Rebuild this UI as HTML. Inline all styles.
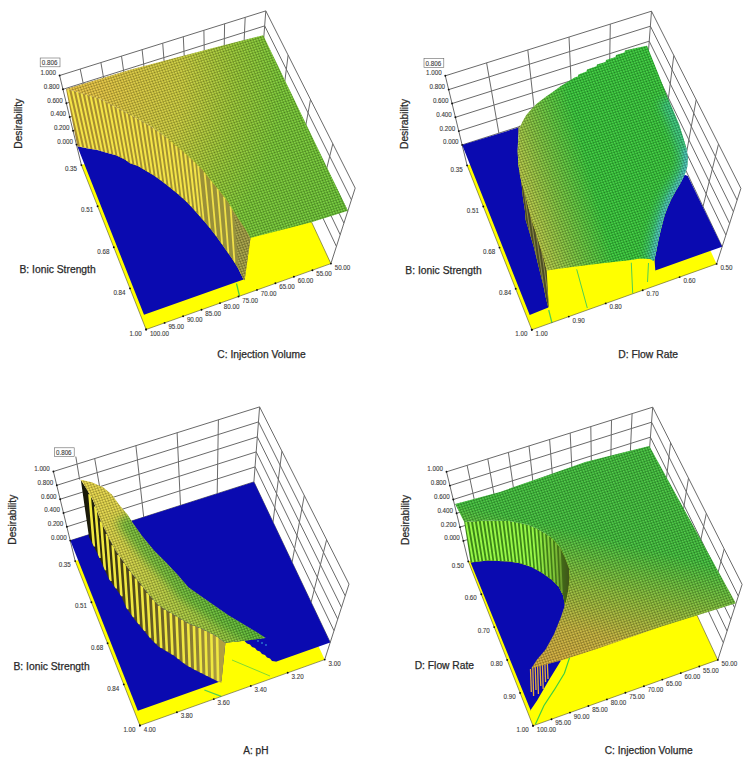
<!DOCTYPE html><html><head><meta charset="utf-8"><title>Desirability surfaces</title>
<style>
html,body{margin:0;padding:0;background:#fff;}
svg{display:block;}
.w{stroke:#6a6a6a;stroke-width:1;fill:none;}
.e{stroke:#50502a;stroke-width:0.6;fill:none;}
.d{fill:#111;}
.t{font-family:"Liberation Sans",sans-serif;font-size:7px;fill:#3c3c3c;stroke:#3c3c3c;stroke-width:0.12px;}
.a{font-family:"Liberation Sans",sans-serif;font-size:10px;fill:#2a2a2a;stroke:#2a2a2a;stroke-width:0.25px;}
.bx{fill:#fff;stroke:#666;stroke-width:0.6;}
</style></head><body><svg width="750" height="763" viewBox="0 0 750 763"><defs>
<radialGradient id="g1" gradientUnits="userSpaceOnUse" cx="62" cy="88" r="300">
 <stop offset="0" stop-color="#e8c040"/><stop offset="0.12" stop-color="#e4c440"/><stop offset="0.4" stop-color="#cacc3c"/><stop offset="0.58" stop-color="#98c834"/><stop offset="0.73" stop-color="#78c834"/><stop offset="1" stop-color="#6cc636"/></radialGradient>
<linearGradient id="g2" gradientUnits="userSpaceOnUse" x1="522" y1="210" x2="595" y2="190">
 <stop offset="0" stop-color="#c4c846"/><stop offset="0.45" stop-color="#80c43e"/><stop offset="1" stop-color="#36c83a"/></linearGradient>
<radialGradient id="g3" gradientUnits="userSpaceOnUse" cx="82" cy="482" r="230">
 <stop offset="0" stop-color="#ecd84a"/><stop offset="0.35" stop-color="#d8d446"/><stop offset="0.7" stop-color="#b0cc40"/><stop offset="1" stop-color="#88c43a"/></radialGradient>
<linearGradient id="g3b" gradientUnits="userSpaceOnUse" x1="128" y1="590" x2="160" y2="548">
 <stop offset="0" stop-color="#48b030" stop-opacity="0"/><stop offset="1" stop-color="#40b030" stop-opacity="0.7"/></linearGradient>
<linearGradient id="cg3" gradientUnits="userSpaceOnUse" x1="85" y1="0" x2="220" y2="0">
 <stop offset="0" stop-color="#181808"/><stop offset="0.3" stop-color="#4c4418"/><stop offset="0.8" stop-color="#8a7c34"/><stop offset="1" stop-color="#b0a040"/></linearGradient>
<linearGradient id="g4" gradientUnits="userSpaceOnUse" x1="560" y1="668" x2="592" y2="535">
 <stop offset="0" stop-color="#d4aa3c"/><stop offset="0.3" stop-color="#c4b23c"/><stop offset="0.62" stop-color="#8cbc38"/><stop offset="1" stop-color="#40c03c"/></linearGradient>
<linearGradient id="cy2" gradientUnits="userSpaceOnUse" x1="645" y1="205" x2="683" y2="196">
 <stop offset="0" stop-color="#38c0a0" stop-opacity="0"/><stop offset="0.5" stop-color="#38c4a8" stop-opacity="0.5"/><stop offset="1" stop-color="#48b8d0" stop-opacity="0.9"/></linearGradient>
<linearGradient id="cd4" gradientUnits="userSpaceOnUse" x1="535" y1="0" x2="568" y2="0">
 <stop offset="0" stop-color="#506018" stop-opacity="0"/><stop offset="0.6" stop-color="#506018" stop-opacity="0.35"/><stop offset="1" stop-color="#404818" stop-opacity="0.75"/></linearGradient>
<filter id="bl4" x="-50%" y="-50%" width="200%" height="200%"><feGaussianBlur stdDeviation="4"/></filter>
<filter id="bl2" x="-50%" y="-50%" width="200%" height="200%"><feGaussianBlur stdDeviation="2"/></filter>
<linearGradient id="cg1" gradientUnits="userSpaceOnUse" x1="70" y1="0" x2="245" y2="0">
 <stop offset="0" stop-color="#a88c30"/><stop offset="0.6" stop-color="#a09032"/><stop offset="1" stop-color="#949040"/></linearGradient>
<pattern id="mesh" width="1" height="1" patternUnits="userSpaceOnUse" patternTransform="matrix(2.55 -0.78 0.93 2.37 0 0)"><path d="M0 0.13H1M0.13 0V1" stroke="#000" stroke-opacity="0.3" stroke-width="0.26"/><circle cx="0.58" cy="0.58" r="0.2" fill="#ffffd0" fill-opacity="0.35"/></pattern>
<pattern id="bar1" width="4.4" height="20" patternUnits="userSpaceOnUse" patternTransform="rotate(-7)"><rect x="0" y="0" width="2.0" height="20" fill="#f4e448"/></pattern><pattern id="bar2" width="3.0" height="20" patternUnits="userSpaceOnUse" patternTransform="rotate(-8)"><rect x="0" y="0" width="1.0" height="20" fill="#8a8a48"/></pattern><pattern id="bar3" width="5.6" height="20" patternUnits="userSpaceOnUse" patternTransform="rotate(-6)"><rect x="0" y="0" width="2.8" height="20" fill="#f0e840"/></pattern><pattern id="bar4" width="4.0" height="20" patternUnits="userSpaceOnUse" patternTransform="rotate(-5)"><rect x="0" y="0" width="1.8" height="20" fill="#8ef040"/></pattern></defs><rect width="750" height="763" fill="#fff"/><g><line x1="76.5" y1="144.6" x2="260.1" y2="85.9" class="w"/><line x1="260.1" y1="85.9" x2="336.4" y2="246.4" class="w"/><line x1="73.1" y1="130.8" x2="261.3" y2="70.9" class="w"/><line x1="261.3" y1="70.9" x2="340.2" y2="234.7" class="w"/><line x1="69.7" y1="117" x2="262.4" y2="55.9" class="w"/><line x1="262.4" y1="55.9" x2="343.9" y2="223.1" class="w"/><line x1="66.4" y1="103.2" x2="263.5" y2="40.9" class="w"/><line x1="263.5" y1="40.9" x2="347.7" y2="211.4" class="w"/><line x1="63" y1="89.3" x2="264.7" y2="25.9" class="w"/><line x1="264.7" y1="25.9" x2="351.4" y2="199.8" class="w"/><line x1="59.6" y1="75.5" x2="265.8" y2="10.9" class="w"/><line x1="265.8" y1="10.9" x2="355.2" y2="188.1" class="w"/><line x1="94.8" y1="138.8" x2="80.2" y2="69" class="w"/><line x1="113.2" y1="132.9" x2="100.9" y2="62.6" class="w"/><line x1="131.6" y1="127" x2="121.5" y2="56.1" class="w"/><line x1="149.9" y1="121.2" x2="142.1" y2="49.6" class="w"/><line x1="168.3" y1="115.3" x2="162.7" y2="43.2" class="w"/><line x1="186.7" y1="109.4" x2="183.3" y2="36.7" class="w"/><line x1="205" y1="103.5" x2="203.9" y2="30.3" class="w"/><line x1="223.4" y1="97.7" x2="224.6" y2="23.8" class="w"/><line x1="241.8" y1="91.8" x2="245.2" y2="17.3" class="w"/><line x1="279.2" y1="126" x2="288.1" y2="55.2" class="w"/><line x1="298.3" y1="166.2" x2="310.5" y2="99.5" class="w"/><line x1="317.3" y1="206.3" x2="332.8" y2="143.8" class="w"/><line x1="59.6" y1="75.5" x2="81.4" y2="165.1" class="w"/><line x1="265.8" y1="10.9" x2="260.1" y2="85.9" class="w"/><line x1="355.2" y1="188.1" x2="330.9" y2="263.6" class="w"/><polygon points="81.4,165.1 258.5,108.1 330.9,263.6 146.1,329.5" fill="#ffff00" /><line x1="330.9" y1="263.6" x2="294.7" y2="185.8" class="e"/><polygon points="77.3,146.3 86.7,148.2 97.3,150 106.7,152.7 116,155.3 125,159.5 130,163.2 138,166 146,170.8 154,175.6 162,181.2 170,187.6 178,194 186,201.2 193,208.5 198.7,215 205.1,222.3 209.7,227.8 216.1,236.1 223.4,246.2 231.7,258.1 238.1,268.2 243.6,279.4 144,314.8" fill="#0a0ab0" /><polygon points="66,89.1 73.3,90.7 86.7,94.7 100,98.7 121.3,110 140,120 155,129 164.3,135.7 173.7,143.7 181.7,150.3 192.3,159.7 203,170.3 213.7,183.7 220.3,191.7 228.3,202.3 233.9,211.8 241,222.4 245.7,229.5 250.5,238 244.6,280.2 243.6,279.4 238.1,268.2 231.7,258.1 223.4,246.2 216.1,236.1 209.7,227.8 205.1,222.3 198.7,215 193,208.5 186,201.2 178,194 170,187.6 162,181.2 154,175.6 146,170.8 138,166 130,163.2 125,159.5 116,155.3 106.7,152.7 97.3,150 86.7,148.2 77.3,146.3" fill="url(#cg1)" /><path d="M68 89.5L81.2 147.1 M72.5 90.5L85.4 147.9 M77 91.8L89.5 148.7 M81.5 93.1L93.6 149.4 M86 94.5L97.7 150.1 M90.5 95.8L102 151.3 M95 97.2L106.2 152.6 M99.5 98.5L110.4 153.7 M104 100.8L114.4 154.9 M108.5 103.2L118.6 156.5 M113 105.6L122.8 158.5 M117.5 108L127.1 161 M122 110.4L131.4 163.7 M126.5 112.8L135.5 165.1 M131 115.2L139.6 167 M135.5 117.6L143.9 169.6 M140 120L148.2 172.1 M144.5 122.7L152.5 174.7 M149 125.4L156.8 177.6 M153.5 128.1L161.1 180.6 M158 131.2L165.4 183.9 M162.5 134.4L169.7 187.4 M167 138L174 190.8 M171.5 141.8L178.2 194.2 M176 145.6L182.5 198 M180.5 149.3L186.8 202 M185 153.2L191.1 206.5 M189.5 157.2L195.5 211.3 M194 161.4L199.8 216.3" stroke="#f4e448" stroke-width="2.0" fill="none" clip-path="url(#cc1)"/><clipPath id="cc1"><polygon points="66,89.1 73.3,90.7 86.7,94.7 100,98.7 121.3,110 140,120 155,129 164.3,135.7 173.7,143.7 181.7,150.3 192.3,159.7 203,170.3 213.7,183.7 220.3,191.7 228.3,202.3 233.9,211.8 241,222.4 245.7,229.5 250.5,238 244.6,280.2 243.6,279.4 238.1,268.2 231.7,258.1 223.4,246.2 216.1,236.1 209.7,227.8 205.1,222.3 198.7,215 193,208.5 186,201.2 178,194 170,187.6 162,181.2 154,175.6 146,170.8 138,166 130,163.2 125,159.5 116,155.3 106.7,152.7 97.3,150 86.7,148.2 77.3,146.3"/></clipPath><path d="M198 165.3L203.7 220.7 M204.5 172.2L209.9 228 M211 180.3L216 236 M217.5 188.3L222.2 244.6 M224 196.6L228.4 253.4 M230.5 206L234.5 262.6 M237 216.4L240.7 273.5" stroke="#f0e048" stroke-width="1.8" fill="none" clip-path="url(#cc1)"/><polygon points="233.9,211.8 241,222.4 245.7,229.5 250.5,238 244.6,280.2 243.6,279.4 240.5,273 238.5,268" fill="#a4a044" /><polygon points="233.9,211.8 241,222.4 245.7,229.5 250.5,238 244.6,280.2 243.6,279.4 240.5,273 238.5,268" fill="url(#mesh)" /><polygon points="66,89.1 130,69.8 210,48.8 263.2,35.2 347.9,210.8 311.5,222.2 250.5,238 245.7,229.5 241,222.4 233.9,211.8 228.3,202.3 220.3,191.7 213.7,183.7 203,170.3 192.3,159.7 181.7,150.3 173.7,143.7 164.3,135.7 155,129 140,120 121.3,110 100,98.7 86.7,94.7 73.3,90.7" fill="url(#g1)" /><polygon points="66,89.1 130,69.8 210,48.8 263.2,35.2 347.9,210.8 311.5,222.2 250.5,238 245.7,229.5 241,222.4 233.9,211.8 228.3,202.3 220.3,191.7 213.7,183.7 203,170.3 192.3,159.7 181.7,150.3 173.7,143.7 164.3,135.7 155,129 140,120 121.3,110 100,98.7 86.7,94.7 73.3,90.7" fill="url(#mesh)" /><line x1="236.5" y1="283.5" x2="239.5" y2="296" stroke="#40d040" stroke-width="1.2"/><line x1="81.4" y1="165.1" x2="146.1" y2="329.5" class="e"/><line x1="146.1" y1="329.5" x2="330.9" y2="263.6" class="e"/><circle cx="81.4" cy="165.1" r="0.95" class="d"/><circle cx="97.6" cy="206.2" r="0.95" class="d"/><circle cx="113.8" cy="247.3" r="0.95" class="d"/><circle cx="130" cy="288.4" r="0.95" class="d"/><circle cx="146.1" cy="329.5" r="0.95" class="d"/><circle cx="146.1" cy="329.5" r="0.95" class="d"/><circle cx="164.6" cy="322.9" r="0.95" class="d"/><circle cx="183.1" cy="316.3" r="0.95" class="d"/><circle cx="201.5" cy="309.7" r="0.95" class="d"/><circle cx="220" cy="303.1" r="0.95" class="d"/><circle cx="238.5" cy="296.5" r="0.95" class="d"/><circle cx="257" cy="289.9" r="0.95" class="d"/><circle cx="275.4" cy="283.3" r="0.95" class="d"/><circle cx="293.9" cy="276.8" r="0.95" class="d"/><circle cx="312.4" cy="270.2" r="0.95" class="d"/><circle cx="330.9" cy="263.6" r="0.95" class="d"/><circle cx="76.5" cy="144.6" r="0.95" class="d"/><circle cx="73.1" cy="130.8" r="0.95" class="d"/><circle cx="69.7" cy="117" r="0.95" class="d"/><circle cx="66.4" cy="103.2" r="0.95" class="d"/><circle cx="63" cy="89.3" r="0.95" class="d"/><circle cx="59.6" cy="75.5" r="0.95" class="d"/><text x="57.3" y="144" class="t" textLength="15.6" lengthAdjust="spacingAndGlyphs">0.000</text><text x="53.9" y="130.2" class="t" textLength="15.6" lengthAdjust="spacingAndGlyphs">0.200</text><text x="50.5" y="116.4" class="t" textLength="15.6" lengthAdjust="spacingAndGlyphs">0.400</text><text x="47.2" y="102.6" class="t" textLength="15.6" lengthAdjust="spacingAndGlyphs">0.600</text><text x="43.8" y="88.7" class="t" textLength="15.6" lengthAdjust="spacingAndGlyphs">0.800</text><text x="40.4" y="74.9" class="t" textLength="15.6" lengthAdjust="spacingAndGlyphs">1.000</text><text x="64.9" y="171.3" class="t" textLength="12.1" lengthAdjust="spacingAndGlyphs">0.35</text><text x="81.1" y="212.4" class="t" textLength="12.1" lengthAdjust="spacingAndGlyphs">0.51</text><text x="97.3" y="253.5" class="t" textLength="12.1" lengthAdjust="spacingAndGlyphs">0.68</text><text x="113.4" y="294.6" class="t" textLength="12.1" lengthAdjust="spacingAndGlyphs">0.84</text><text x="129.6" y="335.7" class="t" textLength="12.1" lengthAdjust="spacingAndGlyphs">1.00</text><text x="149.9" y="335.5" class="t" textLength="19.1" lengthAdjust="spacingAndGlyphs">100.00</text><text x="168.4" y="328.9" class="t" textLength="15.6" lengthAdjust="spacingAndGlyphs">95.00</text><text x="186.9" y="322.3" class="t" textLength="15.6" lengthAdjust="spacingAndGlyphs">90.00</text><text x="205.3" y="315.7" class="t" textLength="15.6" lengthAdjust="spacingAndGlyphs">85.00</text><text x="223.8" y="309.1" class="t" textLength="15.6" lengthAdjust="spacingAndGlyphs">80.00</text><text x="242.3" y="302.5" class="t" textLength="15.6" lengthAdjust="spacingAndGlyphs">75.00</text><text x="260.8" y="295.9" class="t" textLength="15.6" lengthAdjust="spacingAndGlyphs">70.00</text><text x="279.2" y="289.3" class="t" textLength="15.6" lengthAdjust="spacingAndGlyphs">65.00</text><text x="297.7" y="282.8" class="t" textLength="15.6" lengthAdjust="spacingAndGlyphs">60.00</text><text x="316.2" y="276.2" class="t" textLength="15.6" lengthAdjust="spacingAndGlyphs">55.00</text><text x="334.7" y="269.6" class="t" textLength="15.6" lengthAdjust="spacingAndGlyphs">50.00</text><text x="19.5" y="273.4" class="a" textLength="76.2" lengthAdjust="spacingAndGlyphs">B: Ionic Strength</text><text x="217.3" y="357.9" class="a" textLength="88.4" lengthAdjust="spacingAndGlyphs">C: Injection Volume</text><text class="a" transform="translate(22.2,123.7) rotate(-90)" text-anchor="middle" textLength="50" lengthAdjust="spacingAndGlyphs">Desirability</text><rect x="40.2" y="58" width="19.8" height="8.8" class="bx"/><text x="41.8" y="65" class="t" textLength="15.6" lengthAdjust="spacingAndGlyphs">0.806</text></g><g><line x1="462.2" y1="144.9" x2="645.8" y2="86.2" class="w"/><line x1="645.8" y1="86.2" x2="722.1" y2="246.7" class="w"/><line x1="458.8" y1="131.1" x2="647" y2="71.2" class="w"/><line x1="647" y1="71.2" x2="725.9" y2="235" class="w"/><line x1="455.4" y1="117.3" x2="648.1" y2="56.2" class="w"/><line x1="648.1" y1="56.2" x2="729.6" y2="223.4" class="w"/><line x1="452.1" y1="103.5" x2="649.2" y2="41.2" class="w"/><line x1="649.2" y1="41.2" x2="733.4" y2="211.7" class="w"/><line x1="448.7" y1="89.6" x2="650.4" y2="26.2" class="w"/><line x1="650.4" y1="26.2" x2="737.1" y2="200.1" class="w"/><line x1="445.3" y1="75.8" x2="651.5" y2="11.2" class="w"/><line x1="651.5" y1="11.2" x2="740.9" y2="188.4" class="w"/><line x1="498.9" y1="133.2" x2="486.6" y2="62.9" class="w"/><line x1="535.6" y1="121.5" x2="527.8" y2="49.9" class="w"/><line x1="572.4" y1="109.7" x2="569" y2="37" class="w"/><line x1="609.1" y1="98" x2="610.3" y2="24.1" class="w"/><line x1="664.9" y1="126.3" x2="673.8" y2="55.5" class="w"/><line x1="684" y1="166.5" x2="696.2" y2="99.8" class="w"/><line x1="703" y1="206.6" x2="718.5" y2="144.1" class="w"/><line x1="445.3" y1="75.8" x2="467.1" y2="165.4" class="w"/><line x1="651.5" y1="11.2" x2="645.8" y2="86.2" class="w"/><line x1="740.9" y1="188.4" x2="716.6" y2="263.9" class="w"/><polygon points="467.1,165.4 644.2,108.4 716.6,263.9 531.8,329.8" fill="#ffff00" /><polygon points="462.2,144.9 518.5,127.6 517.7,151.2 518.3,164.3 519.7,170.9 521.6,184 522.9,197.1 524.9,210.2 525.7,220 529.7,233.1 533.6,246.2 536.9,259.3 540.1,272.4 543.4,285.5 546,298.6 548.3,307.5 529.7,315.1" fill="#0a0ab0" /><polygon points="687.8,176.1 722.1,246.7 655.3,270.4 654.5,259.3 655.8,253.4 658.3,240.6 661.3,227.8 664.7,215 667.5,207.6 671.5,198.4 676,190.5 680.6,182.7 684.6,174.8" fill="#0a0ab0" /><polygon points="519.7,125 518.3,138.1 517.7,151.2 518.3,164.3 520.3,177.4 524.2,190.5 527.5,203.6 531.6,220 536.2,233.1 540.1,246.2 544.1,259.3 546.7,270.5 548.7,306.5 548.3,307.5 548.3,307.5 546,298.6 543.4,285.5 540.1,272.4 536.9,259.3 533.6,246.2 529.7,233.1 525.7,220 524.9,210.2 522.9,197.1 521.6,184 519.7,170.9 518.3,164.3 517.7,151.2 518.5,127.6" fill="#4c4c24" /><polygon points="519.7,125 518.3,138.1 517.7,151.2 518.3,164.3 520.3,177.4 524.2,190.5 527.5,203.6 531.6,220 536.2,233.1 540.1,246.2 544.1,259.3 546.7,270.5 548.7,306.5 548.3,307.5 548.3,307.5 546,298.6 543.4,285.5 540.1,272.4 536.9,259.3 533.6,246.2 529.7,233.1 525.7,220 524.9,210.2 522.9,197.1 521.6,184 519.7,170.9 518.3,164.3 517.7,151.2 518.5,127.6" fill="url(#bar2)" /><polygon points="518.9,131.1 519.9,126.9 523.1,120.5 526.3,115.1 531.7,108.7 537,103.4 545.5,97 553,91.7 560.5,86.3 569,81 575,77.3 578,76.5 578.5,74.5 586.5,71.5 587,69.5 596.5,66.3 597,64.5 605.5,62 606,60 615.5,57 616,55 624.5,52.5 625,50.5 636,48 647,45.7 657.5,71.9 668,98.2 679.3,125 683.3,138.1 686.5,148.6 687.8,157.8 687.2,166.9 684.6,174.8 680.6,182.7 676,190.5 671.5,198.4 667.5,207.6 664.7,215 661.3,227.8 658.3,240.6 655.8,253.4 654.5,259.3 653.6,261 650.2,258.9 640,258.5 631,260 600,263.5 570,267.2 546.7,270.5 544.1,259.3 540.1,246.2 536.2,233.1 531.6,220 527.5,203.6 524.2,190.5 520.3,177.4 518.3,164.3 517.7,151.2 518.3,138.1 519.7,125" fill="url(#g2)" /><clipPath id="clip2"><polygon points="518.9,131.1 519.9,126.9 523.1,120.5 526.3,115.1 531.7,108.7 537,103.4 545.5,97 553,91.7 560.5,86.3 569,81 575,77.3 578,76.5 578.5,74.5 586.5,71.5 587,69.5 596.5,66.3 597,64.5 605.5,62 606,60 615.5,57 616,55 624.5,52.5 625,50.5 636,48 647,45.7 657.5,71.9 668,98.2 679.3,125 683.3,138.1 686.5,148.6 687.8,157.8 687.2,166.9 684.6,174.8 680.6,182.7 676,190.5 671.5,198.4 667.5,207.6 664.7,215 661.3,227.8 658.3,240.6 655.8,253.4 654.5,259.3 653.6,261 650.2,258.9 640,258.5 631,260 600,263.5 570,267.2 546.7,270.5 544.1,259.3 540.1,246.2 536.2,233.1 531.6,220 527.5,203.6 524.2,190.5 520.3,177.4 518.3,164.3 517.7,151.2 518.3,138.1 519.7,125"/></clipPath><g clip-path="url(#clip2)"><polyline points="668,98.2 679.3,125 683.3,138.1 686.5,148.6 687.8,157.8 687.2,166.9 684.6,174.8 680.6,182.7 676,190.5 671.5,198.4 667.5,207.6 664.7,215 661.3,227.8 658.3,240.6 655.8,253.4 654.5,259.3 653.6,262" fill="none" stroke="#3cc4b4" stroke-width="20" stroke-opacity="0.55" filter="url(#bl4)"/><polyline points="686.5,148.6 687.8,157.8 687.2,166.9 684.6,174.8 680.6,182.7 676,190.5 671.5,198.4 667.5,207.6 664.7,215 661.3,227.8 658.3,240.6 655.8,253.4 654.5,259.3 653.6,262" fill="none" stroke="#50c0d8" stroke-width="8" stroke-opacity="0.7" filter="url(#bl2)"/></g><polygon points="518.9,131.1 519.9,126.9 523.1,120.5 526.3,115.1 531.7,108.7 537,103.4 545.5,97 553,91.7 560.5,86.3 569,81 575,77.3 578,76.5 578.5,74.5 586.5,71.5 587,69.5 596.5,66.3 597,64.5 605.5,62 606,60 615.5,57 616,55 624.5,52.5 625,50.5 636,48 647,45.7 657.5,71.9 668,98.2 679.3,125 683.3,138.1 686.5,148.6 687.8,157.8 687.2,166.9 684.6,174.8 680.6,182.7 676,190.5 671.5,198.4 667.5,207.6 664.7,215 661.3,227.8 658.3,240.6 655.8,253.4 654.5,259.3 653.6,261 650.2,258.9 640,258.5 631,260 600,263.5 570,267.2 546.7,270.5 544.1,259.3 540.1,246.2 536.2,233.1 531.6,220 527.5,203.6 524.2,190.5 520.3,177.4 518.3,164.3 517.7,151.2 518.3,138.1 519.7,125" fill="url(#mesh)" /><polyline points="576.7,269.3 587.3,308" stroke="#50d050" stroke-width="1" fill="none"/><polyline points="631.3,262.7 632.7,293.3" stroke="#50d050" stroke-width="1" fill="none"/><polyline points="648.5,263 647.5,282" stroke="#50d050" stroke-width="1" fill="none"/><polyline points="548.7,310 552,323" stroke="#50d050" stroke-width="1.2" fill="none"/><line x1="467.1" y1="165.4" x2="531.8" y2="329.8" class="e"/><line x1="531.8" y1="329.8" x2="716.6" y2="263.9" class="e"/><circle cx="467.1" cy="165.4" r="0.95" class="d"/><circle cx="483.3" cy="206.5" r="0.95" class="d"/><circle cx="499.5" cy="247.6" r="0.95" class="d"/><circle cx="515.7" cy="288.7" r="0.95" class="d"/><circle cx="531.8" cy="329.8" r="0.95" class="d"/><circle cx="531.8" cy="329.8" r="0.95" class="d"/><circle cx="568.8" cy="316.6" r="0.95" class="d"/><circle cx="605.7" cy="303.4" r="0.95" class="d"/><circle cx="642.7" cy="290.2" r="0.95" class="d"/><circle cx="679.6" cy="277.1" r="0.95" class="d"/><circle cx="716.6" cy="263.9" r="0.95" class="d"/><circle cx="462.2" cy="144.9" r="0.95" class="d"/><circle cx="458.8" cy="131.1" r="0.95" class="d"/><circle cx="455.4" cy="117.3" r="0.95" class="d"/><circle cx="452.1" cy="103.5" r="0.95" class="d"/><circle cx="448.7" cy="89.6" r="0.95" class="d"/><circle cx="445.3" cy="75.8" r="0.95" class="d"/><text x="443" y="144.3" class="t" textLength="15.6" lengthAdjust="spacingAndGlyphs">0.000</text><text x="439.6" y="130.5" class="t" textLength="15.6" lengthAdjust="spacingAndGlyphs">0.200</text><text x="436.2" y="116.7" class="t" textLength="15.6" lengthAdjust="spacingAndGlyphs">0.400</text><text x="432.9" y="102.9" class="t" textLength="15.6" lengthAdjust="spacingAndGlyphs">0.600</text><text x="429.5" y="89" class="t" textLength="15.6" lengthAdjust="spacingAndGlyphs">0.800</text><text x="426.1" y="75.2" class="t" textLength="15.6" lengthAdjust="spacingAndGlyphs">1.000</text><text x="450.6" y="171.6" class="t" textLength="12.1" lengthAdjust="spacingAndGlyphs">0.35</text><text x="466.8" y="212.7" class="t" textLength="12.1" lengthAdjust="spacingAndGlyphs">0.51</text><text x="483" y="253.8" class="t" textLength="12.1" lengthAdjust="spacingAndGlyphs">0.68</text><text x="499.1" y="294.9" class="t" textLength="12.1" lengthAdjust="spacingAndGlyphs">0.84</text><text x="515.3" y="336" class="t" textLength="12.1" lengthAdjust="spacingAndGlyphs">1.00</text><text x="535.6" y="335.8" class="t" textLength="12.1" lengthAdjust="spacingAndGlyphs">1.00</text><text x="572.6" y="322.6" class="t" textLength="12.1" lengthAdjust="spacingAndGlyphs">0.90</text><text x="609.5" y="309.4" class="t" textLength="12.1" lengthAdjust="spacingAndGlyphs">0.80</text><text x="646.5" y="296.2" class="t" textLength="12.1" lengthAdjust="spacingAndGlyphs">0.70</text><text x="683.4" y="283.1" class="t" textLength="12.1" lengthAdjust="spacingAndGlyphs">0.60</text><text x="720.4" y="269.9" class="t" textLength="12.1" lengthAdjust="spacingAndGlyphs">0.50</text><text x="405.3" y="273.7" class="a" textLength="76.4" lengthAdjust="spacingAndGlyphs">B: Ionic Strength</text><text x="618.3" y="358" class="a" textLength="59.7" lengthAdjust="spacingAndGlyphs">D: Flow Rate</text><text class="a" transform="translate(407.9,124) rotate(-90)" text-anchor="middle" textLength="50" lengthAdjust="spacingAndGlyphs">Desirability</text><rect x="424" y="58.6" width="19.8" height="8.8" class="bx"/><text x="425.6" y="65.6" class="t" textLength="15.6" lengthAdjust="spacingAndGlyphs">0.806</text></g><g><line x1="70.3" y1="540.6" x2="253.9" y2="481.9" class="w"/><line x1="253.9" y1="481.9" x2="330.2" y2="642.4" class="w"/><line x1="66.9" y1="526.8" x2="255.1" y2="466.9" class="w"/><line x1="255.1" y1="466.9" x2="334" y2="630.7" class="w"/><line x1="63.5" y1="513" x2="256.2" y2="451.9" class="w"/><line x1="256.2" y1="451.9" x2="337.7" y2="619.1" class="w"/><line x1="60.2" y1="499.2" x2="257.3" y2="436.9" class="w"/><line x1="257.3" y1="436.9" x2="341.5" y2="607.4" class="w"/><line x1="56.8" y1="485.3" x2="258.5" y2="421.9" class="w"/><line x1="258.5" y1="421.9" x2="345.2" y2="595.8" class="w"/><line x1="53.4" y1="471.5" x2="259.6" y2="406.9" class="w"/><line x1="259.6" y1="406.9" x2="349" y2="584.1" class="w"/><line x1="107" y1="528.9" x2="94.7" y2="458.6" class="w"/><line x1="143.7" y1="517.2" x2="135.9" y2="445.6" class="w"/><line x1="180.5" y1="505.4" x2="177.1" y2="432.7" class="w"/><line x1="217.2" y1="493.7" x2="218.4" y2="419.8" class="w"/><line x1="273" y1="522" x2="281.9" y2="451.2" class="w"/><line x1="292.1" y1="562.2" x2="304.3" y2="495.5" class="w"/><line x1="311.1" y1="602.3" x2="326.6" y2="539.8" class="w"/><line x1="53.4" y1="471.5" x2="75.2" y2="561.1" class="w"/><line x1="259.6" y1="406.9" x2="253.9" y2="481.9" class="w"/><line x1="349" y1="584.1" x2="324.7" y2="659.6" class="w"/><polygon points="75.2,561.1 252.3,504.1 324.7,659.6 139.9,725.5" fill="#ffff00" /><polygon points="70.3,540.6 253.9,481.9 330.2,642.4 137.8,710.8" fill="#0a0ab0" /><polygon points="221,685 225.4,642.8 244.3,640.7 247,643.5 250,644.5 252,647 255,648 257,650.5 260,651.5 262,654 265,655 267,657.5 270,658.5 272,661 275.6,661.4 277.5,664" fill="#ffff00" /><polygon points="80.8,479.8 86,488 92.9,500 100.7,520.4 108.6,537.7 116.4,551.9 124.3,562.9 132.2,573.9 140,583.3 147.9,593.5 157.6,604.5 164.8,609.6 172,613.6 180,618.4 188.3,623.3 201.7,628.7 215,635.3 225.4,642.8 221.4,682.8 218,681.6 210,677.6 202,673.6 194,669.6 186,665 180,660.5 174.4,656 166.4,651.2 158.4,646.4 150.4,638.4 142.4,628.8 134.4,619.2 126.4,608 121.4,596.4 108.6,578.6 97.6,554 89,537" fill="url(#cg3)" /><clipPath id="cc3"><polygon points="80.8,479.8 86,488 92.9,500 100.7,520.4 108.6,537.7 116.4,551.9 124.3,562.9 132.2,573.9 140,583.3 147.9,593.5 157.6,604.5 164.8,609.6 172,613.6 180,618.4 188.3,623.3 201.7,628.7 215,635.3 225.4,642.8 221.4,682.8 218,681.6 210,677.6 202,673.6 194,669.6 186,665 180,660.5 174.4,656 166.4,651.2 158.4,646.4 150.4,638.4 142.4,628.8 134.4,619.2 126.4,608 121.4,596.4 108.6,578.6 97.6,554 89,537"/></clipPath><path d="M89.5 494.1L93.9 546.6 M95.3 506.3L99.5 558.2 M101.1 521.3L104.9 570.3 M106.9 534L110.4 581.1 M112.7 545.2L115.8 588.7 M118.5 554.8L121.4 596.4 M124.3 562.9L127.4 609.4 M130.1 571L133 617.3 M135.9 578.4L138.7 624.4 M141.7 585.5L144.3 631.1 M147.5 593L150 637.9 M153.3 599.6L155.6 643.6 M159.1 605.6L161.2 648.1 M164.9 609.7L166.9 651.5 M170.7 612.9L172.5 654.9 M176.5 616.3L178.3 659.1 M182.3 619.8L184 663.5 M188.1 623.2L189.7 667.1 M193.9 625.6L195.4 670.3 M199.7 627.9L201.1 673.1 M205.5 630.6L206.7 676 M211.3 633.5L212.4 678.8 M217.1 636.8L218.1 681.6" stroke="#f0e840" stroke-width="2.6" fill="none" clip-path="url(#cc3)"/><polygon points="80.8,479.8 91.6,482.2 103.1,487.3 111.8,494.5 119,504.6 127.6,514.7 132.4,522.4 142,536 154,550.4 166,562.4 178,575.2 188.3,587.3 201.7,596.7 215,606 228.3,615.3 241.7,623.3 255,631.3 265.7,638 244.3,640.7 225.4,642.8 215,635.3 201.7,628.7 188.3,623.3 180,618.4 172,613.6 164.8,609.6 157.6,604.5 147.9,593.5 140,583.3 132.2,573.9 124.3,562.9 116.4,551.9 108.6,537.7 100.7,520.4 92.9,500 86,488" fill="url(#g3)" /><clipPath id="clip3"><polygon points="80.8,479.8 91.6,482.2 103.1,487.3 111.8,494.5 119,504.6 127.6,514.7 132.4,522.4 142,536 154,550.4 166,562.4 178,575.2 188.3,587.3 201.7,596.7 215,606 228.3,615.3 241.7,623.3 255,631.3 265.7,638 244.3,640.7 225.4,642.8 215,635.3 201.7,628.7 188.3,623.3 180,618.4 172,613.6 164.8,609.6 157.6,604.5 147.9,593.5 140,583.3 132.2,573.9 124.3,562.9 116.4,551.9 108.6,537.7 100.7,520.4 92.9,500 86,488"/></clipPath><g clip-path="url(#clip3)"><polyline points="127.6,514.7 132.4,522.4 142,536 154,550.4 166,562.4 178,575.2 188.3,587.3 201.7,596.7 215,606 228.3,615.3 241.7,623.3 255,631.3 265.7,638" fill="none" stroke="#40b030" stroke-width="28" stroke-opacity="0.65" filter="url(#bl4)"/></g><polygon points="80.8,479.8 91.6,482.2 103.1,487.3 111.8,494.5 119,504.6 127.6,514.7 132.4,522.4 142,536 154,550.4 166,562.4 178,575.2 188.3,587.3 201.7,596.7 215,606 228.3,615.3 241.7,623.3 255,631.3 265.7,638 244.3,640.7 225.4,642.8 215,635.3 201.7,628.7 188.3,623.3 180,618.4 172,613.6 164.8,609.6 157.6,604.5 147.9,593.5 140,583.3 132.2,573.9 124.3,562.9 116.4,551.9 108.6,537.7 100.7,520.4 92.9,500 86,488" fill="url(#mesh)" /><circle cx="258" cy="641" r="0.8" fill="#40c0e0"/><circle cx="262" cy="643" r="0.8" fill="#40c0e0"/><circle cx="266" cy="645" r="0.8" fill="#40c0e0"/><polyline points="204.4,690 221.2,696.4" stroke="#50d050" stroke-width="1.2" fill="none"/><polyline points="232,660 270,676" stroke="#60d040" stroke-width="0.8" fill="none"/><line x1="75.2" y1="561.1" x2="139.9" y2="725.5" class="e"/><line x1="139.9" y1="725.5" x2="324.7" y2="659.6" class="e"/><circle cx="75.2" cy="561.1" r="0.95" class="d"/><circle cx="91.4" cy="602.2" r="0.95" class="d"/><circle cx="107.6" cy="643.3" r="0.95" class="d"/><circle cx="123.8" cy="684.4" r="0.95" class="d"/><circle cx="139.9" cy="725.5" r="0.95" class="d"/><circle cx="139.9" cy="725.5" r="0.95" class="d"/><circle cx="176.9" cy="712.3" r="0.95" class="d"/><circle cx="213.8" cy="699.1" r="0.95" class="d"/><circle cx="250.8" cy="685.9" r="0.95" class="d"/><circle cx="287.7" cy="672.8" r="0.95" class="d"/><circle cx="324.7" cy="659.6" r="0.95" class="d"/><circle cx="70.3" cy="540.6" r="0.95" class="d"/><circle cx="66.9" cy="526.8" r="0.95" class="d"/><circle cx="63.5" cy="513" r="0.95" class="d"/><circle cx="60.2" cy="499.2" r="0.95" class="d"/><circle cx="56.8" cy="485.3" r="0.95" class="d"/><circle cx="53.4" cy="471.5" r="0.95" class="d"/><text x="51.1" y="540" class="t" textLength="15.6" lengthAdjust="spacingAndGlyphs">0.000</text><text x="47.7" y="526.2" class="t" textLength="15.6" lengthAdjust="spacingAndGlyphs">0.200</text><text x="44.3" y="512.4" class="t" textLength="15.6" lengthAdjust="spacingAndGlyphs">0.400</text><text x="41" y="498.6" class="t" textLength="15.6" lengthAdjust="spacingAndGlyphs">0.600</text><text x="37.6" y="484.7" class="t" textLength="15.6" lengthAdjust="spacingAndGlyphs">0.800</text><text x="34.2" y="470.9" class="t" textLength="15.6" lengthAdjust="spacingAndGlyphs">1.000</text><text x="58.7" y="567.3" class="t" textLength="12.1" lengthAdjust="spacingAndGlyphs">0.35</text><text x="74.9" y="608.4" class="t" textLength="12.1" lengthAdjust="spacingAndGlyphs">0.51</text><text x="91.1" y="649.5" class="t" textLength="12.1" lengthAdjust="spacingAndGlyphs">0.68</text><text x="107.2" y="690.6" class="t" textLength="12.1" lengthAdjust="spacingAndGlyphs">0.84</text><text x="123.4" y="731.7" class="t" textLength="12.1" lengthAdjust="spacingAndGlyphs">1.00</text><text x="143.7" y="731.5" class="t" textLength="12.1" lengthAdjust="spacingAndGlyphs">4.00</text><text x="180.7" y="718.3" class="t" textLength="12.1" lengthAdjust="spacingAndGlyphs">3.80</text><text x="217.6" y="705.1" class="t" textLength="12.1" lengthAdjust="spacingAndGlyphs">3.60</text><text x="254.6" y="691.9" class="t" textLength="12.1" lengthAdjust="spacingAndGlyphs">3.40</text><text x="291.5" y="678.8" class="t" textLength="12.1" lengthAdjust="spacingAndGlyphs">3.20</text><text x="328.5" y="665.6" class="t" textLength="12.1" lengthAdjust="spacingAndGlyphs">3.00</text><text x="13.5" y="669.7" class="a" textLength="76.2" lengthAdjust="spacingAndGlyphs">B: Ionic Strength</text><text x="243.3" y="754" class="a" textLength="25.2" lengthAdjust="spacingAndGlyphs">A: pH</text><text class="a" transform="translate(16,519.7) rotate(-90)" text-anchor="middle" textLength="50" lengthAdjust="spacingAndGlyphs">Desirability</text><rect x="54.4" y="447.8" width="19.8" height="8.8" class="bx"/><text x="56" y="454.8" class="t" textLength="15.6" lengthAdjust="spacingAndGlyphs">0.806</text><line x1="75.8" y1="456.6" x2="79.6" y2="479.5" class="w"/></g><g><line x1="463.4" y1="540.9" x2="647" y2="482.2" class="w"/><line x1="647" y1="482.2" x2="723.3" y2="642.7" class="w"/><line x1="460" y1="527.1" x2="648.2" y2="467.2" class="w"/><line x1="648.2" y1="467.2" x2="727.1" y2="631" class="w"/><line x1="456.6" y1="513.3" x2="649.3" y2="452.2" class="w"/><line x1="649.3" y1="452.2" x2="730.8" y2="619.4" class="w"/><line x1="453.3" y1="499.5" x2="650.4" y2="437.2" class="w"/><line x1="650.4" y1="437.2" x2="734.6" y2="607.7" class="w"/><line x1="449.9" y1="485.6" x2="651.6" y2="422.2" class="w"/><line x1="651.6" y1="422.2" x2="738.3" y2="596.1" class="w"/><line x1="446.5" y1="471.8" x2="652.7" y2="407.2" class="w"/><line x1="652.7" y1="407.2" x2="742.1" y2="584.4" class="w"/><line x1="481.7" y1="535.1" x2="467.1" y2="465.3" class="w"/><line x1="500.1" y1="529.2" x2="487.8" y2="458.9" class="w"/><line x1="518.5" y1="523.3" x2="508.4" y2="452.4" class="w"/><line x1="536.8" y1="517.5" x2="529" y2="445.9" class="w"/><line x1="555.2" y1="511.6" x2="549.6" y2="439.5" class="w"/><line x1="573.6" y1="505.7" x2="570.2" y2="433" class="w"/><line x1="591.9" y1="499.8" x2="590.8" y2="426.6" class="w"/><line x1="610.3" y1="494" x2="611.5" y2="420.1" class="w"/><line x1="628.7" y1="488.1" x2="632.1" y2="413.6" class="w"/><line x1="662.3" y1="514.3" x2="670.6" y2="442.6" class="w"/><line x1="677.5" y1="546.4" x2="688.5" y2="478.1" class="w"/><line x1="692.8" y1="578.5" x2="706.3" y2="513.5" class="w"/><line x1="708" y1="610.6" x2="724.2" y2="549" class="w"/><line x1="446.5" y1="471.8" x2="468.3" y2="561.4" class="w"/><line x1="652.7" y1="407.2" x2="647" y2="482.2" class="w"/><line x1="742.1" y1="584.4" x2="717.8" y2="659.9" class="w"/><polygon points="468.3,561.4 645.4,504.4 717.8,659.9 533,725.8" fill="#ffff00" /><line x1="717.8" y1="659.9" x2="681.6" y2="582.1" class="e"/><polygon points="470.6,562.5 487.7,560.4 509,561.5 520,563.3 531.5,566.9 541.6,572.6 551.7,579.8 558.9,587 563.2,595.7 564.7,604.3 564.7,615.9 563.2,625 561,660.4 549,680 537.1,700.4 530.3,710.6 530.9,711.1" fill="#0a0ab0" /><polygon points="464.2,522 486.7,520.5 509,521 520,522.9 528.6,525.1 537.3,528.7 545.9,533.7 553.1,539.5 560.3,548.1 564.7,556.8 569,568.3 569.7,578.4 568.3,589.9 566.1,601.5 564.7,604.3 563.2,595.7 558.9,587 551.7,579.8 541.6,572.6 531.5,566.9 520,563.3 509,561.5 487.7,560.4 470.6,562.5" fill="#3c8618" /><clipPath id="cc4"><polygon points="464.2,522 486.7,520.5 509,521 520,522.9 528.6,525.1 537.3,528.7 545.9,533.7 553.1,539.5 560.3,548.1 564.7,556.8 569,568.3 569.7,578.4 568.3,589.9 566.1,601.5 564.7,604.3 563.2,595.7 558.9,587 551.7,579.8 541.6,572.6 531.5,566.9 520,563.3 509,561.5 487.7,560.4 470.6,562.5"/></clipPath><path d="M466.1 521.9L473.2 562.2 M470 521.6L476.8 561.7 M473.9 521.4L480.5 561.3 M477.8 521.1L484.1 560.8 M481.7 520.8L487.8 560.4 M485.6 520.6L491.5 560.6 M489.5 520.6L495.2 560.8 M493.4 520.7L499 561 M497.3 520.7L502.7 561.2 M501.2 520.8L506.4 561.4 M505.1 520.9L510.1 561.7 M509 521L513.8 562.3 M512.9 521.7L517.5 562.9 M516.8 522.4L521.2 563.7 M520.7 523.1L524.9 564.8 M524.6 524.1L528.6 566 M528.5 525.1L532.3 567.4 M532.4 526.7L536 569.5 M536.3 528.3L539.7 571.6 M540.2 530.4L543.4 573.9 M544.1 532.7L547.1 576.5 M548 535.4L550.8 579.2 M551.9 538.6L554.5 582.6 M555.8 542.8L558.1 586.2 M559.7 547.4L561.9 593.1" stroke="#98f848" stroke-width="1.9" fill="none" clip-path="url(#cc4)"/><polygon points="464.2,522 486.7,520.5 509,521 520,522.9 528.6,525.1 537.3,528.7 545.9,533.7 553.1,539.5 560.3,548.1 564.7,556.8 569,568.3 569.7,578.4 568.3,589.9 566.1,601.5 564.7,604.3 563.2,595.7 558.9,587 551.7,579.8 541.6,572.6 531.5,566.9 520,563.3 509,561.5 487.7,560.4 470.6,562.5" fill="url(#cd4)" /><line x1="530.5" y1="669" x2="531.3" y2="692" stroke="#e8b038" stroke-width="1.3"/><line x1="532.8" y1="668" x2="533.5999999999999" y2="696" stroke="#e8b038" stroke-width="1.3"/><line x1="535.2" y1="667" x2="536.0" y2="690" stroke="#e8b038" stroke-width="1.3"/><line x1="537.6" y1="666" x2="538.4" y2="694" stroke="#e8b038" stroke-width="1.3"/><line x1="540" y1="665" x2="540.8" y2="686" stroke="#e8b038" stroke-width="1.3"/><line x1="542.4" y1="664" x2="543.1999999999999" y2="689" stroke="#e8b038" stroke-width="1.3"/><line x1="544.8" y1="662" x2="545.5999999999999" y2="682" stroke="#e8b038" stroke-width="1.3"/><line x1="547.2" y1="660" x2="548.0" y2="679" stroke="#e8b038" stroke-width="1.3"/><polygon points="455.1,503.9 500,491.9 542.7,476.9 585.3,462 628,451.3 649.3,446 712,560 735.8,603.3 660,627.1 595,649.4 561,660.4 531.2,668.6 537.1,659.6 545.6,649.4 554.1,634 561,617 566.1,601.5 568.3,589.9 569.7,578.4 569,568.3 564.7,556.8 560.3,548.1 553.1,539.5 545.9,533.7 537.3,528.7 528.6,525.1 520,522.9 509,521 486.7,520.5 464.2,522" fill="url(#g4)" /><polygon points="455.1,503.9 500,491.9 542.7,476.9 585.3,462 628,451.3 649.3,446 712,560 735.8,603.3 660,627.1 595,649.4 561,660.4 531.2,668.6 537.1,659.6 545.6,649.4 554.1,634 561,617 566.1,601.5 568.3,589.9 569.7,578.4 569,568.3 564.7,556.8 560.3,548.1 553.1,539.5 545.9,533.7 537.3,528.7 528.6,525.1 520,522.9 509,521 486.7,520.5 464.2,522" fill="url(#mesh)" /><polyline points="569.5,657.9 564.4,673.2 554.1,690.2 544,705.5 535.4,724.3" stroke="#40d040" stroke-width="1.2" fill="none"/><line x1="468.3" y1="561.4" x2="533" y2="725.8" class="e"/><line x1="533" y1="725.8" x2="717.8" y2="659.9" class="e"/><circle cx="468.3" cy="561.4" r="0.95" class="d"/><circle cx="481.3" cy="594.2" r="0.95" class="d"/><circle cx="494.2" cy="627.1" r="0.95" class="d"/><circle cx="507.2" cy="660" r="0.95" class="d"/><circle cx="520.1" cy="692.9" r="0.95" class="d"/><circle cx="533" cy="725.8" r="0.95" class="d"/><circle cx="533" cy="725.8" r="0.95" class="d"/><circle cx="551.5" cy="719.2" r="0.95" class="d"/><circle cx="570" cy="712.6" r="0.95" class="d"/><circle cx="588.4" cy="706" r="0.95" class="d"/><circle cx="606.9" cy="699.4" r="0.95" class="d"/><circle cx="625.4" cy="692.8" r="0.95" class="d"/><circle cx="643.9" cy="686.2" r="0.95" class="d"/><circle cx="662.3" cy="679.6" r="0.95" class="d"/><circle cx="680.8" cy="673.1" r="0.95" class="d"/><circle cx="699.3" cy="666.5" r="0.95" class="d"/><circle cx="717.8" cy="659.9" r="0.95" class="d"/><circle cx="463.4" cy="540.9" r="0.95" class="d"/><circle cx="460" cy="527.1" r="0.95" class="d"/><circle cx="456.6" cy="513.3" r="0.95" class="d"/><circle cx="453.3" cy="499.5" r="0.95" class="d"/><circle cx="449.9" cy="485.6" r="0.95" class="d"/><circle cx="446.5" cy="471.8" r="0.95" class="d"/><text x="444.2" y="540.3" class="t" textLength="15.6" lengthAdjust="spacingAndGlyphs">0.000</text><text x="440.8" y="526.5" class="t" textLength="15.6" lengthAdjust="spacingAndGlyphs">0.200</text><text x="437.4" y="512.7" class="t" textLength="15.6" lengthAdjust="spacingAndGlyphs">0.400</text><text x="434.1" y="498.9" class="t" textLength="15.6" lengthAdjust="spacingAndGlyphs">0.600</text><text x="430.7" y="485" class="t" textLength="15.6" lengthAdjust="spacingAndGlyphs">0.800</text><text x="427.3" y="471.2" class="t" textLength="15.6" lengthAdjust="spacingAndGlyphs">1.000</text><text x="451.8" y="567.6" class="t" textLength="12.1" lengthAdjust="spacingAndGlyphs">0.50</text><text x="464.7" y="600.4" class="t" textLength="12.1" lengthAdjust="spacingAndGlyphs">0.60</text><text x="477.7" y="633.3" class="t" textLength="12.1" lengthAdjust="spacingAndGlyphs">0.70</text><text x="490.6" y="666.2" class="t" textLength="12.1" lengthAdjust="spacingAndGlyphs">0.80</text><text x="503.6" y="699.1" class="t" textLength="12.1" lengthAdjust="spacingAndGlyphs">0.90</text><text x="516.5" y="732" class="t" textLength="12.1" lengthAdjust="spacingAndGlyphs">1.00</text><text x="536.8" y="731.8" class="t" textLength="19.1" lengthAdjust="spacingAndGlyphs">100.00</text><text x="555.3" y="725.2" class="t" textLength="15.6" lengthAdjust="spacingAndGlyphs">95.00</text><text x="573.8" y="718.6" class="t" textLength="15.6" lengthAdjust="spacingAndGlyphs">90.00</text><text x="592.2" y="712" class="t" textLength="15.6" lengthAdjust="spacingAndGlyphs">85.00</text><text x="610.7" y="705.4" class="t" textLength="15.6" lengthAdjust="spacingAndGlyphs">80.00</text><text x="629.2" y="698.8" class="t" textLength="15.6" lengthAdjust="spacingAndGlyphs">75.00</text><text x="647.7" y="692.2" class="t" textLength="15.6" lengthAdjust="spacingAndGlyphs">70.00</text><text x="666.1" y="685.6" class="t" textLength="15.6" lengthAdjust="spacingAndGlyphs">65.00</text><text x="684.6" y="679.1" class="t" textLength="15.6" lengthAdjust="spacingAndGlyphs">60.00</text><text x="703.1" y="672.5" class="t" textLength="15.6" lengthAdjust="spacingAndGlyphs">55.00</text><text x="721.6" y="665.9" class="t" textLength="15.6" lengthAdjust="spacingAndGlyphs">50.00</text><text x="414.7" y="669.4" class="a" textLength="59.4" lengthAdjust="spacingAndGlyphs">D: Flow Rate</text><text x="604.7" y="753.8" class="a" textLength="87.9" lengthAdjust="spacingAndGlyphs">C: Injection Volume</text><text class="a" transform="translate(409.1,520) rotate(-90)" text-anchor="middle" textLength="50" lengthAdjust="spacingAndGlyphs">Desirability</text></g></svg></body></html>
